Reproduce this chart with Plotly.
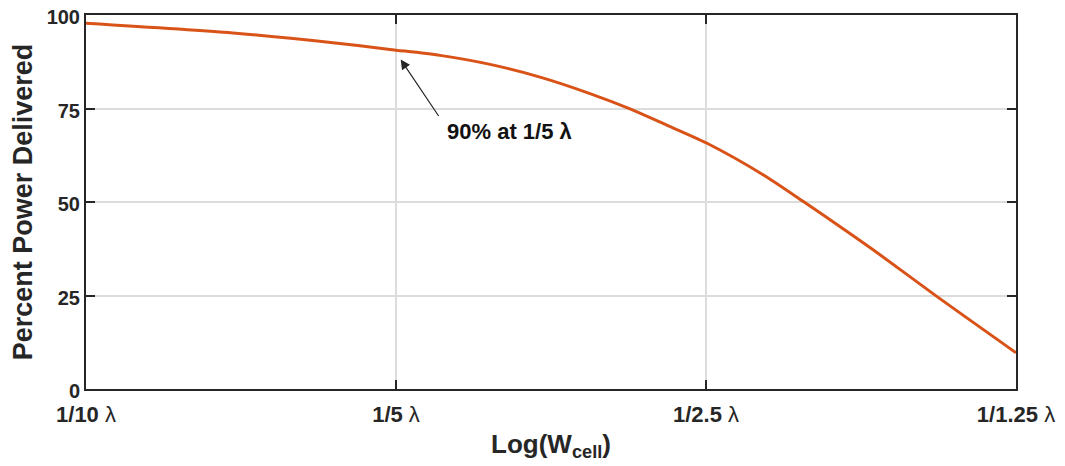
import plotly.graph_objects as go
import numpy as np

# Data
cell_width = [0.1, 0.1389, 0.1737, 0.1973, 0.2207, 0.2468, 0.2760, 0.3086, 0.3375,
              0.3633, 0.4009, 0.4544, 0.4969, 0.5483, 0.5902, 0.6675, 0.8]
percent_power = [97.8, 95.2, 92.6, 90.8, 89.2, 86.8, 83.4, 79.0, 74.9,
                 71.0, 65.7, 57.3, 50.2, 42.1, 35.9, 25.1, 9.7]

x_tick_vals = [0.1, 0.2, 0.4, 0.8]
x_tick_text = ["<b>1/10</b> λ", "<b>1/5</b> λ", "<b>1/2.5</b> λ", "<b>1/1.25</b> λ"]
y_tick_vals = [0, 25, 50, 75, 100]
y_tick_text = ["<b>0</b>", "<b>25</b>", "<b>50</b>", "<b>75</b>", "<b>100</b>"]

fig = go.Figure()
fig.add_trace(go.Scatter(
    x=cell_width, y=percent_power, mode="lines",
    line=dict(color="#D95319", width=3, shape="spline", smoothing=0.8),
    showlegend=False, hoverinfo="skip",
))

axis_color = "#262626"
font_family = "Liberation Sans, Arial, sans-serif"

fig.update_xaxes(
    type="log", range=[np.log10(0.1), np.log10(0.8)],
    tickvals=x_tick_vals, ticktext=x_tick_text,
    ticks="inside", ticklen=9, tickwidth=1.5, tickcolor=axis_color,
    showline=True, linecolor=axis_color, linewidth=2, mirror="ticks",
    showgrid=True, gridcolor="#dcdcdc", gridwidth=1.5,
    tickfont=dict(size=22, color="#262626", family=font_family),
    ticklabelstandoff=5, ticklabeloverflow="allow",
    title=dict(text="<b>Log(W<sub>cell</sub>)</b>", font=dict(size=26, color="#262626", family=font_family), standoff=8),
    zeroline=False, automargin=False,
)
fig.update_yaxes(
    range=[0, 100],
    tickvals=y_tick_vals, ticktext=y_tick_text,
    ticks="inside", ticklen=9, tickwidth=1.5, tickcolor=axis_color,
    showline=True, linecolor=axis_color, linewidth=2, mirror="ticks",
    showgrid=True, gridcolor="#dcdcdc", gridwidth=1.5,
    tickfont=dict(size=20, color="#262626", family=font_family),
    ticklabeloverflow="allow", ticklabelshift=2,
    title=dict(text="<b>Percent Power Delivered</b>", font=dict(size=27, color="#262626", family=font_family), standoff=8),
    zeroline=False, automargin=False,
)

# Arrow pointing at the 1/5 λ point
fig.add_annotation(
    x=np.log10(0.2021), y=88.1, xref="x", yref="y",
    ax=39, ay=58, axref="pixel", ayref="pixel",
    text="", showarrow=True, arrowhead=2, arrowsize=1.6, arrowwidth=1.2,
    arrowcolor="#262626", standoff=0,
)
fig.add_annotation(
    x=np.log10(0.258), y=68.9, xref="x", yref="y",
    text="<b>90% at 1/5 λ</b>", showarrow=False,
    font=dict(size=22, color="#111111", family=font_family),
)

# page body adds an 8px offset, so the figure is sized to fit the window
fig.update_layout(
    width=1057, height=458,
    margin=dict(l=78, r=49, t=7, b=77),
    plot_bgcolor="white", paper_bgcolor="white",
)

fig.write_html("out.html")
